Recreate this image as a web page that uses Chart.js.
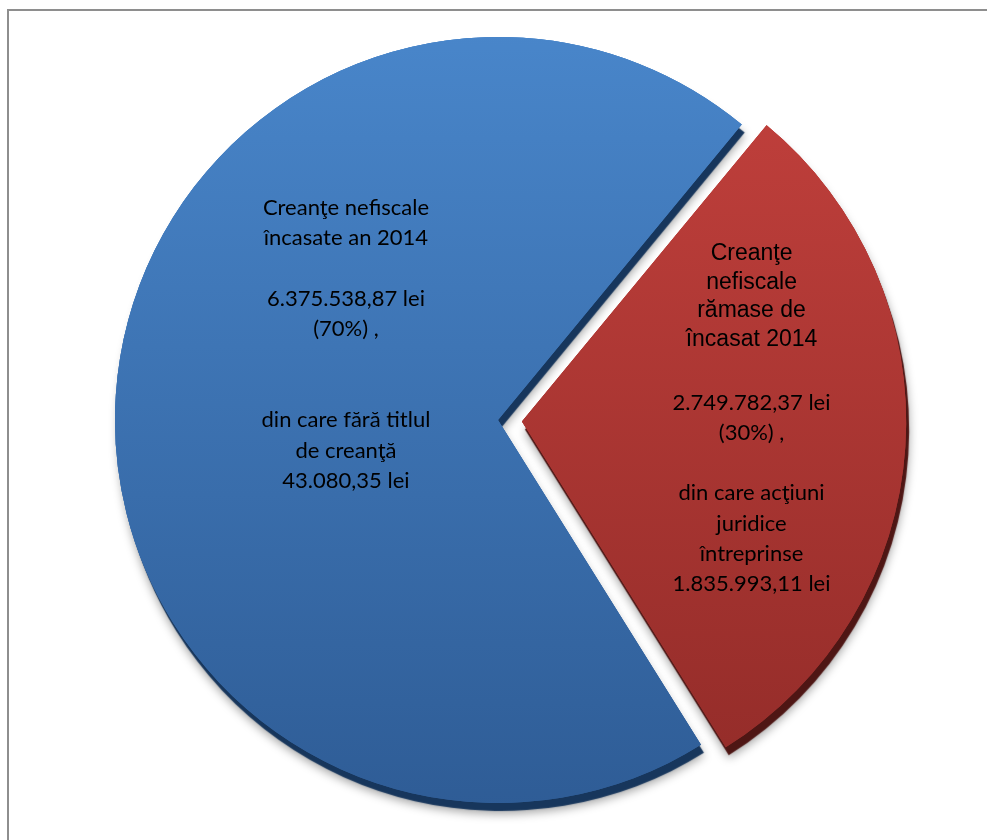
<!DOCTYPE html>
<html>
<head>
<meta charset="utf-8">
<script src="https://cdn.jsdelivr.net/npm/chart.js@4.4.1/dist/chart.umd.min.js"></script>
<style>
  html, body { margin: 0; padding: 0; background: #fff; overflow: hidden; }
  #frame {
    position: absolute; left: 7px; top: 9px;
    width: 1200px; height: 1000px;
    border: 2px solid #8e8e8e; box-sizing: border-box;
  }
  #wrap { position: absolute; left: 0; top: -20px; width: 987px; height: 880px; }
</style>
</head>
<body>
<div id="frame"></div>
<div id="wrap"><canvas id="pie"></canvas></div>
<script>
const categories = ["Creanţe nefiscale încasate an 2014", "Creanţe nefiscale rămase de încasat 2014"];
const amounts = [6375538.87, 2749782.37];

const blueLabel = ["Creanţe nefiscale", "încasate an 2014", "", "6.375.538,87 lei", "(70%) ,", "", "", "din care fără titlul", "de creanţă", "43.080,35 lei"];
const redHeading = ["Creanţe", "nefiscale", "rămase de", "încasat 2014"];
const redBody = ["2.749.782,37 lei", "(30%) ,", "", "din care acţiuni", "juridice", "întreprinse", "1.835.993,11 lei"];

const fills = [["#4a88cd", "#2d5a93"], ["#c6423e", "#8f2a27"]];
const rims = ["#17365c", "#4e1614"];

function sliceFill(c) {
  const area = c.chart.chartArea;
  if (!area) return fills[c.dataIndex][0];
  const g = c.chart.ctx.createLinearGradient(0, area.top, 0, area.bottom);
  g.addColorStop(0, fills[c.dataIndex][0]);
  g.addColorStop(1, fills[c.dataIndex][1]);
  return g;
}

// draw slices with a drop shadow and a dark rim underneath
const depth = {
  id: "depth",
  beforeDatasetDraw(chart, args) {
    const ctx = chart.ctx;
    const arcs = chart.getDatasetMeta(args.index).data;
    arcs.forEach(arc => {
      ctx.save();
      ctx.shadowColor = "rgba(0,0,0,0.35)";
      ctx.shadowBlur = 10;
      ctx.shadowOffsetX = 3;
      ctx.shadowOffsetY = 11;
      arc.draw(ctx);
      ctx.restore();
    });
    arcs.forEach((arc, i) => {
      ctx.save();
      ctx.shadowColor = rims[i];
      ctx.shadowBlur = 1;
      ctx.shadowOffsetX = 3;
      ctx.shadowOffsetY = 8;
      arc.draw(ctx);
      ctx.restore();
    });
    arcs.forEach(arc => arc.draw(ctx));
    return false;
  }
};

function block(ctx, lines, x, y, lh) {
  lines.forEach((t, i) => { if (t) ctx.fillText(t, x, y + i * lh); });
}

const labels = {
  id: "labels",
  afterDatasetsDraw(chart) {
    const ctx = chart.ctx;
    const arcs = chart.getDatasetMeta(0).data;
    const r = arcs[0].outerRadius;
    const cx = arcs[0].x, cy = arcs[0].y;
    ctx.save();
    ctx.fillStyle = "#000";
    ctx.textAlign = "center";
    ctx.textBaseline = "middle";
    ctx.font = "22px Lato";
    block(ctx, blueLabel, cx - 0.397 * r, cy - 0.555 * r, 30.4);
    ctx.font = "23px 'Liberation Sans'";
    block(ctx, redHeading, cx + 0.662 * r, cy - 0.434 * r, 28.5);
    ctx.font = "22px Lato";
    block(ctx, redBody, cx + 0.662 * r, cy - 0.434 * r + 149, 30.2);
    ctx.restore();
  }
};

new Chart(document.getElementById("pie"), {
  type: "pie",
  data: {
    labels: categories,
    datasets: [{
      data: amounts,
      backgroundColor: sliceFill,
      borderWidth: 0,
      offset: [0, 96]
    }]
  },
  options: {
    responsive: true,
    maintainAspectRatio: false,
    animation: false,
    rotation: 148,
    layout: { padding: { left: 67, right: 58, top: 9, bottom: 9 } },
    plugins: {
      legend: { display: false },
      tooltip: { enabled: false }
    }
  },
  plugins: [depth, labels]
});
</script>
</body>
</html>
